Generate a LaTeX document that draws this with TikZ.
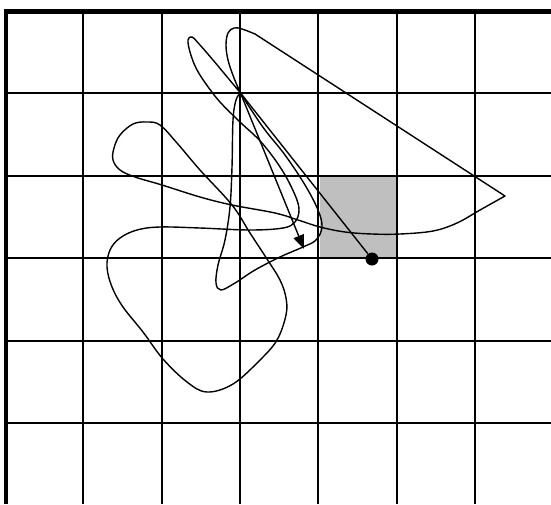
\documentclass[tikz,border=0pt]{standalone}
\usetikzlibrary{arrows.meta}
\definecolor{Cell}{HTML}{BFBFBF}
\tikzset{
 gridline/.style={line width=1pt, draw=black},
 frame/.style={line width=2.2pt, draw=black},
 pathline/.style={line width=0.7pt, draw=black, line join=round},
 walker/.style={circle, fill=black, inner sep=0pt, minimum size=6.5pt},
 steparrow/.style={pathline, -{Triangle[length=7pt,width=5.5pt]}}
}

\begin{document}
\begin{tikzpicture}[x=0.5pt,y=-0.5pt]
\useasboundingbox (0,0) rectangle (551,504);
% shaded cell and lattice
\fill[Cell] (320,175) rectangle (398,258);
\foreach \i in {1,...,6}{\draw[gridline] (5+78.3*\i,11) -- (5+78.3*\i,504);}
\foreach \j in {1,...,5}{\draw[gridline] (5,11+82.4*\j) -- (551,11+82.4*\j);}
\draw[frame] (6,504) -- (6,11.5) -- (551,11.5);
\coordinate (root) at (240.5,93);
\coordinate (tip) at (304,249);
\node[walker] (dot) at (372,259) {};
% long loop
\draw[pathline] plot[smooth, tension=0.6] coordinates {(root) (228,78) (213,60) (200,45) (192,37) (188,40) (190,52) (196,68) (206,84) (220,102) (240,122) (262,143) (282,170) (295,195) (299,210) (295,222) (283,228) (250,230) (200,228) (160,227) (137,230) (120,238) (110,250) (107,267) (112,287) (123,307) (143,332) (163,359) (187,382) (207,392) (233,384) (260,360) (277,340) (286,315) (286,298) (280,280) (267,259) (250,233) (232,205) (200,170) (177,143) (160,125) (147,122) (133,124) (120,135) (114,148) (113,160) (120,170) (135,177) (162,185) (200,197) (232,205) (275,213) (298,220) (320,227) (345,232) (372,234) (400,234) (433,231) (457,223) (480,210) (505,196)}
 -- plot[smooth, tension=0.6] coordinates {(255,34) (242,29) (234,28) (228,33) (226,45) (228,60) (234,78) (root)};
% short loop
\draw[pathline] plot[smooth, tension=0.6] coordinates {(root) (250,108) (265,130) (285,155) (305,185) (318,210) (322,227) (316,240) (303,247) (280,257) (255,270) (235,283) (221,290) (216,283) (218,265) (225,240) (230,207) (232,167) (233,120) (236,100) (root)};
\draw[steparrow] (root) -- (tip);
\draw[pathline] (root) -- (dot);
\end{tikzpicture}
\end{document}
